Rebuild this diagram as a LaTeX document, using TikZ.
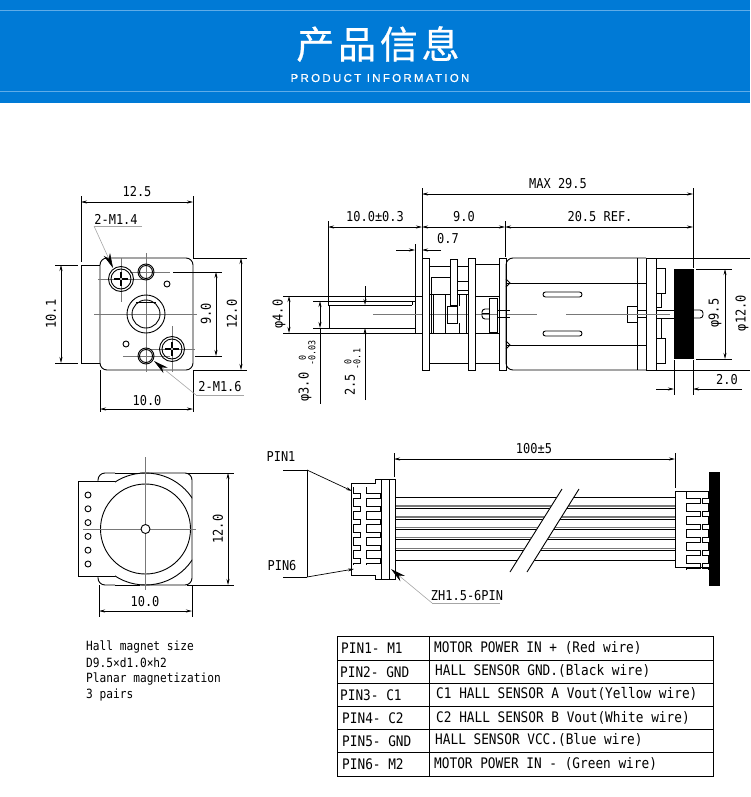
\documentclass[tikz,border=0pt]{standalone}
\usepackage{fontspec}
\setmainfont[FakeStretch=0.88]{DejaVu Sans Mono}
\newfontfamily\cjktitle[LetterSpace=10,FakeBold=0.6]{Noto Sans CJK SC}
\newfontfamily\subtitle[LetterSpace=20,FakeBold=0.6]{Liberation Sans}
\usetikzlibrary{arrows.meta}
\definecolor{headblue}{RGB}{0,122,214}
\definecolor{headline}{RGB}{95,172,232}
\definecolor{clgray}{RGB}{120,120,120}
\tikzset{
  part/.style={line width=0.9pt, black},
  dimline/.style={line width=0.7pt, black},
  dimarrow/.style={dimline, -{Stealth[length=6pt,width=3pt]}},
  dimboth/.style={dimline, {Stealth[length=6pt,width=3pt]}-{Stealth[length=6pt,width=3pt]}},
  cl/.style={line width=0.6pt, clgray},
  leader/.style={line width=0.6pt, gray!70},
  bigtip/.style={line width=0.6pt, gray!70, -{Stealth[length=15pt,width=7pt,black]}},
  lbl/.style={font=\fontsize{13.6}{14}\selectfont, inner sep=0pt, black},
  small/.style={font=\fontsize{9.5}{10}\selectfont, inner sep=0pt, black},
  cell/.style={font=\fontsize{14.5}{15}\selectfont, inner sep=0pt, anchor=west, black}
}
\newcommand{\screw}[2]{
  \draw[part] (#1,#2) circle[radius=12.5];
  \draw[part] (#1,#2) circle[radius=10];
  \draw[part, line width=2.4pt] (#1-7,#2) -- (#1+7,#2);
  \draw[part, line width=2.4pt] (#1,#2-7) -- (#1,#2+7);
  \fill[white] (#1,#2) circle[radius=1.2];
}
\newcommand{\combset}[3]{
  \foreach \i [evaluate=\i as \y using #3+13*\i] in {0,...,5} {
    \draw[part] (#1,\y) -- (#1,\y+6) -- (#2,\y+6) -- (#2,\y+11) -- (#1,\y+11) -- (#1,\y+13);
  }
}
\newcommand{\chevron}[2]{
  \draw[part] (#1,#2-4) -- (#1+4,#2) -- (#1,#2+4);
}
\begin{document}
\begin{tikzpicture}[x=1pt,y=-1pt]
\useasboundingbox (0,0) rectangle (750,797);

% header band
\fill[headblue] (0,0) rectangle (750,103);
\draw[headline, line width=1pt] (0,11) -- (750,11);
\draw[headline, line width=1pt] (0,92) -- (750,92);
\node[inner sep=0pt, white, font=\cjktitle\fontsize{38}{38}\selectfont] (title) at (378,44) {产品信息};
\node[inner sep=0pt, white, font=\subtitle\fontsize{11.5}{12}\selectfont] (subtitle) at (380,78) {PRODUCT INFORMATION};

% front view
\draw[part, rounded corners=7pt] (100,370) -- (100,258) -- (193,258) -- (193,370) -- cycle;
\draw[part] (100,265) -- (81,265) -- (81,363) -- (100,363);
\draw[cl] (94,314) -- (197,314);
\draw[cl] (146,253) -- (146,372);
\draw[cl] (98,279) -- (144,279);
\draw[cl] (121,258) -- (121,302);
\draw[cl] (130,272) -- (170,272);
\draw[cl] (172,326) -- (172,372);
\draw[cl] (150,349) -- (195,349);
\draw[cl] (123,356) -- (170,356);
\draw[part] (146,272) circle[radius=8];
\draw[part] (146,272) circle[radius=6.5];
\draw[part] (146,356) circle[radius=8];
\draw[part] (146,356) circle[radius=6.5];
\draw[part] (167,284) circle[radius=3];
\draw[part] (126,344) circle[radius=3];
\draw[part] (146,314) circle[radius=19];
\draw[part] (146,314) circle[radius=14];
\draw[part] (136,302) -- (156,302);
\screw{121}{279}
\screw{172}{349}

\draw[dimline] (81,196) -- (81,262);
\draw[dimline] (193,196) -- (193,258);
\draw[dimboth] (81,202) -- (193,202);
\node[lbl] (w125) at (137,192) {12.5};
\draw[dimline] (55,265) -- (78,265);
\draw[dimline] (55,363) -- (78,363);
\draw[dimboth] (61,265) -- (61,363);
\node[lbl, rotate=90] (h101) at (51,314) {10.1};
\draw[dimline] (173,272) -- (222,272);
\draw[dimline] (195,356) -- (222,356);
\draw[dimboth] (216,272) -- (216,356);
\node[lbl, rotate=90] (h90) at (206,314) {9.0};
\draw[dimline] (193,258) -- (247,258);
\draw[dimline] (193,370) -- (247,370);
\draw[dimboth] (241,258) -- (241,370);
\node[lbl, rotate=90] (h120) at (232,314) {12.0};
\draw[dimline] (100,370) -- (100,412);
\draw[dimline] (193,370) -- (193,412);
\draw[dimboth] (100,409) -- (193,409);
\node[lbl] (w100) at (147,401) {10.0};

\node[lbl] (m14) at (116,219) {2-M1.4};
\coordinate (m14a) at (142,226);
\coordinate (m14b) at (94,226);
\coordinate (m14c) at (113,268);
\draw[leader] (m14a) -- (m14b);
\draw[bigtip] (m14b) -- (m14c);
\node[lbl] (m16) at (220,387) {2-M1.6};
\coordinate (m16a) at (244,395);
\coordinate (m16b) at (196,395);
\coordinate (m16c) at (154,361);
\draw[leader] (m16a) -- (m16b);
\draw[bigtip] (m16b) -- (m16c);

% side view, shaft
\draw[part] (283,296) -- (422,296);
\draw[part] (283,333) -- (422,333);
\draw[part] (313,301) -- (415,301);
\draw[part] (328,305) -- (412,305);
\draw[part] (313,328) -- (415,328);
\draw[part] (329,305) -- (329,328);
\draw[part] (415,296) -- (415,333);
\draw[part] (412,301) -- (412,305);
\draw[cl] (373,314) -- (497,314);
% side view, gearbox
\foreach \a in {422,468,499} {
  \draw[part, fill=white] (\a,258) rectangle (\a+7.5,370);
}
\draw[part, fill=white] (450,259) rectangle (457,305);
\draw[part] (447,306) rectangle (457,323);
\draw[part] (429,266) -- (450,266);
\draw[part] (457,266) -- (468,266);
\draw[part] (476,264) -- (499,264);
\draw[part] (429,363) -- (468,363);
\draw[part] (476,363) -- (499,363);
\draw[part] (431,277) -- (450,277);
\draw[part] (431,277) -- (431,333);
\draw[part] (433,294) -- (433,333);
\draw[part] (430,294) -- (450,294);
\draw[part] (457,294) -- (468,294);
\draw[part] (429,333) -- (468,333);
\draw[part] (457,281) -- (468,281);
\draw[part] (457,290) -- (468,290);
\draw[part] (445,294) -- (445,333);
\draw[part] (459,323) -- (459,333);
\draw[part] (459,294) -- (459,306);
\draw[part] (466,294) -- (466,333);
\draw[part] (476,296) -- (499,296);
\draw[part] (476,333) -- (499,333);
\draw[part] (489,298) rectangle (497,332);
\draw[part, rounded corners=3pt] (489,309) -- (482,309) -- (482,319) -- (489,319);
\draw[part] (482,313) -- (489,313);
\draw[part] (497,310) -- (510,310);
\draw[part] (497,317) -- (510,317);
\draw[part] (499,310) rectangle (506,317);

% side view, motor
\draw[part, rounded corners=7pt] (646,370) -- (506,370) -- (506,258) -- (646,258);
\draw[part, fill=white] (646,258) rectangle (656,370);
\draw[part] (646,258) -- (646,370);
\draw[part] (637,258) -- (637,370);
\draw[part] (507,283) -- (646,283);
\draw[part] (507,345) -- (646,345);
\chevron{506}{283}
\chevron{506}{345}
\draw[part, rounded corners=2.5pt] (543,292) rectangle (582,297);
\draw[part, rounded corners=2.5pt] (543,331) rectangle (582,336);
\draw[part] (637,306) -- (627,306) -- (627,322) -- (637,322);
\draw[cl] (507,314) -- (537,314);
\draw[cl] (566,314) -- (670,314);
\draw[part] (637,310) -- (646,310);
\draw[part] (637,317) -- (646,317);
\draw[part] (656,310) -- (674,310);
\draw[part] (656,318) -- (674,318);
\draw[part, rounded corners=3pt] (694,310) -- (703,310) -- (703,318) -- (694,318);
\draw[part] (656,268) rectangle (665,293);
\draw[part] (656,293) rectangle (661,307);
\draw[part] (656,338) rectangle (665,363);
\draw[part] (656,318) rectangle (661,338);
\fill[black] (674,269) rectangle (694,359);

% side view, dimensions
\draw[dimline] (422,188) -- (422,258);
\draw[dimline] (693,188) -- (693,268);
\draw[dimline] (505,221) -- (505,257);
\draw[dimline] (328,221) -- (328,305);
\draw[dimboth] (422,194) -- (693,194);
\node[lbl] (maxlen) at (558,184) {MAX 29.5};
\draw[dimboth] (328,227) -- (422,227);
\node[lbl] (shaftlen) at (375,217) {10.0±0.3};
\draw[dimboth] (422,227) -- (505,227);
\node[lbl] (boxlen) at (464,217) {9.0};
\draw[dimboth] (505,227) -- (693,227);
\node[lbl] (motorlen) at (600,217) {20.5 REF.};
\draw[dimline] (415,244) -- (415,296);
\draw[dimarrow] (396,250) -- (415,250);
\draw[dimarrow] (441,250) -- (422,250);
\node[lbl] (step07) at (448,239) {0.7};
\draw[dimline] (283,296) -- (289,296);
\draw[dimboth] (289,296) -- (289,333);
\node[lbl, rotate=90] (dia40) at (279,314) {φ4.0};
\draw[dimboth] (320,301) -- (320,328);
\draw[dimline] (320,328) -- (320,404);
\node[lbl, rotate=90] (dia30) at (305,387) {φ3.0};
\node[small, rotate=90] (dia30u) at (302.5,358) {0};
\node[small, rotate=90] (dia30l) at (312,353) {-0.03};
\draw[dimarrow] (365,286) -- (365,305);
\draw[dimarrow] (365,400) -- (365,328);
\node[lbl, rotate=90] (flat25) at (350,385) {2.5};
\node[small, rotate=90] (flat25u) at (348,362) {0};
\node[small, rotate=90] (flat25l) at (357,359) {-0.1};
\draw[dimline] (656,258) -- (750,258);
\draw[dimline] (656,370) -- (750,370);
\draw[dimline] (696,269) -- (732,269);
\draw[dimline] (696,359) -- (732,359);
\draw[dimboth] (725,269) -- (725,359);
\node[lbl, rotate=90] (dia95) at (715,313) {φ9.5};
\node[lbl, rotate=90] (dia120) at (742,313) {φ12.0};
\draw[dimline] (674,360) -- (674,395);
\draw[dimline] (693,360) -- (693,395);
\draw[dimarrow] (656,389) -- (674,389);
\draw[dimarrow] (742,389) -- (693,389);
\node[lbl] (len20) at (727,380) {2.0};

% magnet view
\draw[part, rounded corners=7pt] (115,473) -- (98,473) -- (98,481);
\draw[part, rounded corners=7pt] (115,585) -- (98,585) -- (98,577);
\draw[part, rounded corners=7pt] (140,473) -- (192,473) -- (192,585) -- (140,585);
\draw[part] (115,585) -- (140,585);
\draw[part] (115,473) -- (140,473);
\fill[white] (99,482) rectangle (115,575);
\begin{scope}
  \clip (115,470) rectangle (192,590);
  \draw[part] (145.5,529) circle[radius=56];
\end{scope}
\draw[part] (115,481) -- (78,481) -- (78,576) -- (115,576);
\draw[part] (145.5,529) circle[radius=45];
\foreach \i [evaluate=\i as \y using 495+13.8*\i] in {0,...,5} {
  \draw[part] (88,\y) circle[radius=3];
}
\draw[cl, line width=1pt] (83,529) -- (196,529);
\draw[cl] (145.5,457) -- (145.5,590);
\draw[part, fill=white] (145.5,529) circle[radius=4.5];
\draw[dimline] (187,473) -- (234,473);
\draw[dimline] (187,585) -- (234,585);
\draw[dimboth] (228,473) -- (228,585);
\node[lbl, rotate=90] (mag120) at (218,529) {12.0};
\draw[dimline] (99,585) -- (99,617);
\draw[dimline] (192,585) -- (192,617);
\draw[dimboth] (99,611) -- (192,611);
\node[lbl] (mag100) at (145,602) {10.0};

% cable
\foreach \y in {506,517,527.5,537.5,548.5} {
  \draw[clgray, line width=1.6pt] (395,\y) -- (675,\y);
}
\foreach \y in {497,508,519,529,539,550,560} {
  \draw[part] (395,\y) -- (675,\y);
}
\fill[white] (562,489) -- (579,489) -- (527,572) -- (510,572) -- cycle;
\draw[part] (562,489) -- (510,572);
\draw[part] (579,489) -- (527,572);

% left connector
\draw[part] (351,483) -- (375,483) -- (375,479) -- (395,479) -- (395,579) -- (375,579) -- (375,575) -- (351,575) -- cycle;
\draw[part] (389,479) -- (389,579);
\draw[part] (381,479) -- (381,579);
\combset{353.5}{360.5}{487}
\combset{366}{380}{487}
% right connector
\draw[part] (709,491) -- (675,491) -- (675,567) -- (709,567);
\combset{686}{700}{492}
\combset{708}{702}{492}
\fill[black] (709,472) rectangle (720,586);

% cable labels and dimensions
\node[lbl] (pin1) at (281,457) {PIN1};
\node[lbl] (pin6) at (282,566) {PIN6};
\coordinate (pin1a) at (283,470);
\coordinate (pin1b) at (307,470);
\coordinate (pin1c) at (352,491);
\coordinate (pin6a) at (283,577);
\coordinate (pin6b) at (307,577);
\coordinate (pin6c) at (354,569);
\draw[part] (pin1a) -- (pin1b);
\draw[part] (pin6a) -- (pin6b);
\draw[part] (pin1b) -- (pin6b);
\draw[dimarrow] (pin1b) -- (pin1c);
\draw[dimarrow] (pin6b) -- (pin6c);
\draw[dimline] (394,453) -- (394,477);
\draw[dimline] (675,453) -- (675,488);
\draw[dimboth] (394,459) -- (675,459);
\node[lbl] (cablelen) at (534,449) {100±5};
\node[lbl] (zh) at (467,596) {ZH1.5-6PIN};
\coordinate (zha) at (500,603);
\coordinate (zhb) at (432,603);
\coordinate (zhc) at (391,569);
\draw[leader] (zha) -- (zhb);
\draw[bigtip] (zhb) -- (zhc);

% magnet note
\foreach \i/\y/\t in {1/647/{Hall magnet size},2/663/{D9.5×d1.0×h2},3/679/{Planar magnetization},4/695/{3 pairs}} {
  \node[cell, font=\fontsize{12.7}{13}\selectfont] (note\i) at (86,\y) {\t};
}

% pin table
\draw[part, line width=1pt] (337,636) rectangle (713,776);
\draw[part, line width=1pt] (429,636) -- (429,776);
\foreach \y in {660,683,706,729,752} {
  \draw[part] (337,\y) -- (713,\y);
}
\foreach \i/\a/\y/\t in {1/341/648/{PIN1- M1},2/340/672/{PIN2- GND},3/340/695/{PIN3- C1},4/342/718/{PIN4- C2},5/342/741/{PIN5- GND},6/342/764/{PIN6- M2}} {
  \node[cell] (pinrow\i) at (\a,\y) {\t};
}
\foreach \i/\a/\y/\t in {1/434/648/{MOTOR POWER IN + (Red wire)},2/435/671/{HALL SENSOR GND.(Black wire)},3/436/694/{C1 HALL SENSOR A Vout(Yellow wire)},4/436/718/{C2 HALL SENSOR B Vout(White wire)},5/435/740/{HALL SENSOR VCC.(Blue wire)},6/434/764/{MOTOR POWER IN - (Green wire)}} {
  \node[cell] (desc\i) at (\a,\y) {\t};
}
\end{tikzpicture}
\end{document}
